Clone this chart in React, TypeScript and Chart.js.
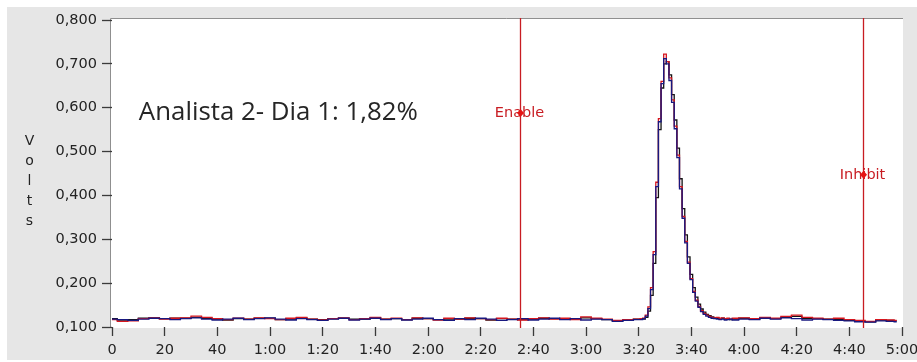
import { useEffect, useRef } from "react";
import { Chart, registerables } from "chart.js";

Chart.register(...registerables);

// Sample times (s): coarse on the baseline, 1 s across the peak
const baseTimes = [
  0, 4, 8, 12, 16, 20, 24, 28, 32, 36, 40, 44, 48, 52, 56, 60, 64, 68, 72, 76,
  80, 84, 88, 92, 96, 100, 104, 108, 112, 116, 120, 124, 128, 132, 136, 140,
  144, 148, 152, 156, 160, 164, 168, 172, 176, 180, 184, 188, 192, 196, 200,
];
const peakTimes = [
  201, 202, 203, 204, 205, 206, 207, 208, 209, 210, 211, 212, 213, 214, 215,
  216, 217, 218, 219, 220, 221, 222, 223, 224, 225, 226, 227, 228, 229, 230,
  231, 232, 233, 234, 235, 236,
];
const tailTimes = [
  240, 244, 248, 252, 256, 260, 264, 268, 272, 276, 280, 284, 288, 292, 296, 298,
];

// Detector signal (V), red trace
const redBase = [
  0.117, 0.113, 0.114, 0.119, 0.121, 0.118, 0.12, 0.121, 0.125, 0.122,
  0.119, 0.117, 0.12, 0.118, 0.121, 0.119, 0.117, 0.12, 0.122, 0.118,
  0.116, 0.119, 0.121, 0.117, 0.119, 0.122, 0.118, 0.12, 0.117, 0.121,
  0.119, 0.116, 0.12, 0.118, 0.121, 0.119, 0.117, 0.12, 0.118, 0.116,
  0.119, 0.121, 0.118, 0.12, 0.117, 0.123, 0.12, 0.118, 0.115, 0.117,
  0.118,
];
const redPeak = [
  0.119, 0.12, 0.127, 0.146, 0.19, 0.272, 0.43, 0.575, 0.66, 0.722,
  0.705, 0.668, 0.618, 0.558, 0.492, 0.42, 0.352, 0.295, 0.248, 0.21,
  0.181, 0.161, 0.147, 0.137, 0.131, 0.127, 0.124, 0.122, 0.121, 0.122,
  0.12, 0.121, 0.119, 0.12, 0.118, 0.12,
];
const redTail = [
  0.121, 0.119, 0.122, 0.12, 0.124, 0.127, 0.122, 0.12, 0.118, 0.12,
  0.117, 0.115, 0.113, 0.117, 0.116, 0.115,
];

// Blue trace
const blueBase = [
  0.118, 0.117, 0.115, 0.118, 0.12, 0.119, 0.117, 0.119, 0.121, 0.118,
  0.116, 0.118, 0.12, 0.117, 0.119, 0.121, 0.118, 0.116, 0.119, 0.117,
  0.115, 0.118, 0.12, 0.116, 0.118, 0.12, 0.117, 0.119, 0.116, 0.118,
  0.12, 0.117, 0.115, 0.119, 0.117, 0.12, 0.118, 0.115, 0.117, 0.119,
  0.116, 0.118, 0.12, 0.117, 0.119, 0.116, 0.118, 0.117, 0.113, 0.115,
  0.117,
];
const bluePeak = [
  0.117, 0.119, 0.125, 0.142, 0.185, 0.265, 0.42, 0.568, 0.655, 0.712,
  0.7, 0.662, 0.612, 0.552, 0.486, 0.415, 0.348, 0.292, 0.245, 0.208,
  0.179, 0.159, 0.145, 0.135, 0.129, 0.125, 0.122, 0.12, 0.119, 0.118,
  0.117, 0.118, 0.116, 0.117, 0.118, 0.116,
];
const blueTail = [
  0.118, 0.117, 0.12, 0.118, 0.121, 0.119, 0.116, 0.118, 0.117, 0.115,
  0.114, 0.112, 0.111, 0.114, 0.113, 0.112,
];

// Black trace
const blackBase = [
  0.119, 0.116, 0.117, 0.12, 0.121, 0.119, 0.12, 0.12, 0.122, 0.12,
  0.118, 0.116, 0.119, 0.118, 0.12, 0.12, 0.117, 0.118, 0.121, 0.118,
  0.117, 0.119, 0.12, 0.118, 0.118, 0.121, 0.118, 0.119, 0.117, 0.12,
  0.119, 0.117, 0.118, 0.118, 0.12, 0.119, 0.116, 0.119, 0.118, 0.117,
  0.118, 0.12, 0.119, 0.119, 0.118, 0.121, 0.119, 0.117, 0.114, 0.116,
  0.118,
];
const blackPeak = [
  0.118, 0.118, 0.122, 0.136, 0.172, 0.245, 0.395, 0.55, 0.645, 0.7,
  0.705, 0.675, 0.63, 0.572, 0.508, 0.438, 0.37, 0.31, 0.26, 0.22,
  0.19, 0.168, 0.152, 0.141, 0.134, 0.129, 0.126, 0.123, 0.121, 0.12,
  0.119, 0.12, 0.118, 0.119, 0.117, 0.118,
];
const blackTail = [
  0.12, 0.118, 0.121, 0.119, 0.122, 0.124, 0.12, 0.119, 0.118, 0.117,
  0.115, 0.113, 0.112, 0.116, 0.115, 0.114,
];

// Integration window cursors
const cursorNames = ["Enable", "Inhibit"];
const cursorTimes = [155, 285];
const cursorLabelLevels = [0.588, 0.447];

// Result annotation
const noteText = "Analista 2- Dia 1: 1,82%";
const noteTime = 10;
const noteLevel = 0.572;

const axisTitleLetters = ["V", "o", "l", "t", "s"];

const X_MIN = 0;
const X_MAX = 300;
const X_STEP = 20;
const Y_MIN = 0.1;
const Y_MAX = 0.8;
const Y_STEP = 0.1;

const TICK_FONT = "DejaVu Sans";
const TEXT_GREY = "#232323";
const CURSOR_RED = "rgb(200, 28, 34)";

function toPoints(times: number[], values: number[]) {
  return times.map((t, i) => ({ x: t, y: values[i] }));
}

function formatTime(v: number) {
  const s = Math.round(v);
  if (s < 60) return String(s);
  const m = Math.floor(s / 60);
  const r = s % 60;
  return `${m}:${r < 10 ? "0" + r : r}`;
}

const panelPlugin = {
  id: "panel",
  beforeDraw(chart: any) {
    const { ctx, width, height, chartArea } = chart;
    ctx.save();
    ctx.fillStyle = "#ffffff";
    ctx.fillRect(0, 0, width, height);
    ctx.fillStyle = "#e6e6e6";
    ctx.fillRect(7, 7, width - 7, height - 9);
    const l = chartArea.left - 2;
    const t = chartArea.top - 2;
    const r = chartArea.right + 1;
    const b = chartArea.bottom + 1;
    ctx.fillStyle = "#ffffff";
    ctx.fillRect(l, t, r - l, b - t);
    ctx.strokeStyle = "#8f8f8f";
    ctx.lineWidth = 1;
    ctx.beginPath();
    ctx.moveTo(l + 0.5, b);
    ctx.lineTo(l + 0.5, t + 0.5);
    ctx.lineTo(r, t + 0.5);
    ctx.stroke();
    ctx.restore();
  },
};

const cursorPlugin = {
  id: "cursors",
  afterDatasetsDraw(chart: any) {
    const { ctx, chartArea, scales } = chart;
    const xs = scales.x;
    const ys = scales.y;
    ctx.save();
    cursorNames.forEach((name, i) => {
      const px = Math.round(xs.getPixelForValue(cursorTimes[i])) + 0.5;
      const py = ys.getPixelForValue(cursorLabelLevels[i]);
      ctx.font = `14.5px "${TICK_FONT}"`;
      ctx.fillStyle = CURSOR_RED;
      ctx.textAlign = "center";
      ctx.textBaseline = "middle";
      ctx.fillText(name, px - 1, py);
      ctx.strokeStyle = CURSOR_RED;
      ctx.lineWidth = 1.3;
      ctx.beginPath();
      ctx.moveTo(px, chartArea.top - 2);
      ctx.lineTo(px, chartArea.bottom + 1);
      ctx.stroke();
      ctx.beginPath();
      ctx.moveTo(px, py - 4);
      ctx.lineTo(px + 3.5, py);
      ctx.lineTo(px, py + 4);
      ctx.lineTo(px - 3.5, py);
      ctx.closePath();
      ctx.fillStyle = "rgb(230, 20, 20)";
      ctx.fill();
    });

    // result annotation
    const nx = xs.getPixelForValue(noteTime);
    const ny = ys.getPixelForValue(noteLevel);
    ctx.font = '26px "Open Sans"';
    ctx.fillStyle = "#262626";
    ctx.textAlign = "left";
    ctx.textBaseline = "alphabetic";
    ctx.fillText(noteText, nx + 0.5, ny, 279);
    ctx.restore();
  },
  afterDraw(chart: any) {
    const { ctx } = chart;
    ctx.save();
    ctx.font = `14px "${TICK_FONT}"`;
    ctx.fillStyle = TEXT_GREY;
    ctx.textAlign = "center";
    ctx.textBaseline = "middle";
    axisTitleLetters.forEach((ch, i) => {
      ctx.fillText(ch, 29.5, 141 + i * 20);
    });
    ctx.restore();
  },
};

export default function App() {
  const canvasRef = useRef<HTMLCanvasElement | null>(null);

  useEffect(() => {
    const canvas = canvasRef.current;
    if (!canvas) return;

    const times = [...baseTimes, ...peakTimes, ...tailTimes];
    const red = [...redBase, ...redPeak, ...redTail];
    const blue = [...blueBase, ...bluePeak, ...blueTail];
    const black = [...blackBase, ...blackPeak, ...blackTail];

    const zeroPad = (s: any) => {
      s.paddingLeft = 0;
      s.paddingRight = 0;
      s.paddingTop = 0;
      s.paddingBottom = 0;
    };

    const chart = new Chart(canvas, {
      type: "line",
      data: {
        datasets: [
          {
            label: "blue",
            data: toPoints(times, blue),
            borderColor: "rgb(24, 24, 128)",
            borderWidth: 1.3,
            pointRadius: 0,
            stepped: "middle",
          },
          {
            label: "red",
            data: toPoints(times, red),
            borderColor: "rgb(214, 22, 30)",
            borderWidth: 1.3,
            pointRadius: 0,
            stepped: "middle",
          },
          {
            label: "black",
            data: toPoints(times, black),
            borderColor: "#141414",
            borderWidth: 1.3,
            pointRadius: 0,
            stepped: "middle",
          },
        ],
      },
      options: {
        animation: false,
        responsive: false,
        devicePixelRatio: 1,
        layout: { padding: { top: 20, right: 15, left: 0, bottom: 0 } },
        plugins: {
          legend: { display: false },
          tooltip: { enabled: false },
        },
        scales: {
          x: {
            type: "linear",
            min: X_MIN,
            max: X_MAX,
            border: { display: false },
            grid: {
              drawOnChartArea: false,
              drawTicks: true,
              tickLength: 9,
              tickWidth: 1.3,
              tickColor: "#3a3a3a",
            },
            ticks: {
              stepSize: X_STEP,
              autoSkip: false,
              maxRotation: 0,
              padding: 6,
              color: TEXT_GREY,
              font: { family: TICK_FONT, size: 14.5 },
              callback: (v: any) => formatTime(Number(v)),
            },
            afterFit: (s: any) => {
              s.height = 35;
              zeroPad(s);
            },
          },
          y: {
            type: "linear",
            min: Y_MIN,
            max: Y_MAX,
            border: { display: false },
            grid: {
              drawOnChartArea: false,
              drawTicks: true,
              tickLength: 10,
              tickWidth: 1.3,
              tickColor: "#3a3a3a",
            },
            ticks: {
              stepSize: Y_STEP,
              padding: 5,
              color: TEXT_GREY,
              font: { family: TICK_FONT, size: 14.5 },
              callback: (v: any) => Number(v).toFixed(3).replace(".", ","),
            },
            afterFit: (s: any) => {
              s.width = 112;
              zeroPad(s);
            },
          },
        },
      },
      plugins: [panelPlugin, cursorPlugin],
    });

    return () => chart.destroy();
  }, []);

  return (
    <div style={{ position: "fixed", left: 0, top: 0, width: 917, height: 362 }}>
      <canvas ref={canvasRef} width={917} height={362} style={{ display: "block" }} />
    </div>
  );
}
